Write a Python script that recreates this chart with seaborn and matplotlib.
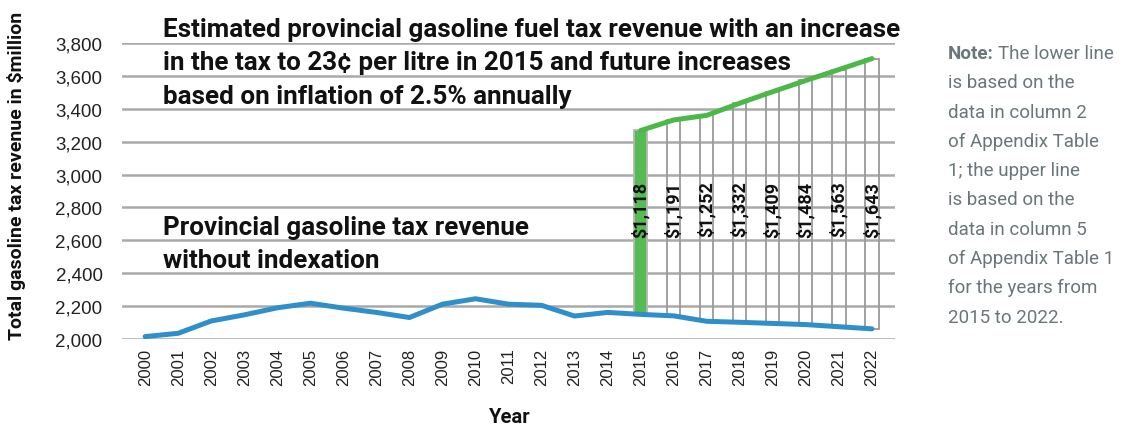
import matplotlib
matplotlib.use("Agg")
import matplotlib.pyplot as plt
import numpy as np
import pandas as pd
import seaborn as sns

# ---- data ($ million) ----
years = list(range(2000, 2023))
revenue_no_index = [2015, 2035, 2110, 2147, 2190, 2218, 2188, 2162, 2131, 2212,
                    2245, 2212, 2205, 2140, 2162, 2150, 2141, 2108, 2102, 2095,
                    2088, 2075, 2062]
proj_years = list(range(2015, 2023))
extra_revenue = [1118, 1191, 1252, 1332, 1409, 1484, 1563, 1643]
extra_labels = ["$1,118", "$1,191", "$1,252", "$1,332", "$1,409", "$1,484",
                "$1,563", "$1,643"]
ytick_values = list(range(2000, 3801, 200))
ytick_labels = [f"{v:,}" for v in ytick_values]

title_lines = [
    "Estimated provincial gasoline fuel tax revenue with an increase",
    "in the tax to 23¢ per litre in 2015 and future increases",
    "based on inflation of 2.5% annually",
]
lower_lines = ["Provincial gasoline tax revenue", "without indexation"]
note_first = "The lower line"
note_lines = ["is based on the", "data in column 2", "of Appendix Table",
              "1; the upper line", "is based on the", "data in column 5",
              "of Appendix Table 1", "for the years from", "2015 to 2022."]

# ---- style ----
sns.set_style("white")
plt.rcParams["font.family"] = ["Liberation Sans", "DejaVu Sans"]
HEAD = "Roboto"

BLUE = "#2f8fcb"
GREEN = "#4cb848"
GRID = "#a9a9a9"
NOTE = "#6a7679"

df_low = pd.DataFrame({"year": years, "revenue": revenue_no_index})
low_proj = df_low.set_index("year").loc[proj_years, "revenue"].to_numpy()
df_up = pd.DataFrame({"year": proj_years,
                      "revenue": low_proj + np.array(extra_revenue)})

fig = plt.figure(figsize=(11.36, 4.31), dpi=100)
ax = fig.add_axes([0.1074, 0.211, 0.6805, 0.687])

# horizontal grid
for v in ytick_values:
    ax.axhline(v, color=GRID, lw=1.8, zorder=0)

# floating bars: extra revenue stacked on the unindexed line
bars = ax.bar(proj_years, extra_revenue, bottom=low_proj, width=0.40,
              facecolor="none", edgecolor="#9a9a9a", linewidth=1.3, zorder=2)
bars[0].set_facecolor("#55bb52")
bars[0].set_edgecolor("#b5b5b5")

sns.lineplot(data=df_low, x="year", y="revenue", ax=ax, color=BLUE, lw=3.6,
             zorder=4, clip_on=False)
sns.lineplot(data=df_up, x="year", y="revenue", ax=ax, color=GREEN, lw=3.6,
             zorder=4, clip_on=False)

for yr, lab in zip(proj_years, extra_labels):
    ax.text(yr, 2793, lab, rotation=90, ha="center", va="center",
            family=HEAD, weight="bold", fontsize=13, color="#111111", zorder=5)

ax.set_xlim(1999.3, 2022.7)
ax.set_ylim(2000, 3800)
ax.set_xticks(years)
ax.set_xticklabels([str(y) for y in years], rotation=90, fontsize=12,
                   color="#222222")
ax.set_yticks(ytick_values)
ax.set_yticklabels(ytick_labels, fontsize=13.5, color="#222222")
ax.tick_params(axis="y", length=0, pad=14)
ax.tick_params(axis="x", length=0, pad=6)
ax.set_xlabel("")
ax.set_ylabel("")
for s in ax.spines.values():
    s.set_visible(False)

# in-chart captions
for i, line in enumerate(title_lines):
    fig.text(163 / 1136, 1 - (30 + 33.3 * i) / 431, line, ha="left",
             va="center", family=HEAD, weight="bold", fontsize=18.7,
             color="#111111")
for i, line in enumerate(lower_lines):
    fig.text(163 / 1136, 1 - (228 + 33.3 * i) / 431, line, ha="left",
             va="center", family=HEAD, weight="bold", fontsize=18.7,
             color="#111111")

fig.text(17 / 1136, 1 - 176 / 431, "Total gasoline tax revenue in $million",
         rotation=90, ha="center", va="center", family=HEAD, weight="bold",
         fontsize=14, color="#111111")
fig.text(510 / 1136, 1 - 418 / 431, "Year", ha="center", va="center",
         family=HEAD, weight="bold", fontsize=14.5, color="#111111")

# side note
note_x = 948 / 1136
step = 29.3
t0 = fig.text(note_x, 1 - 54 / 431, "Note:", ha="left", va="center",
              family=HEAD, weight="bold", fontsize=13.5, color=NOTE)
ax.annotate(note_first, xy=(1, 0), xycoords=t0, xytext=(3, 0),
            textcoords="offset points", ha="left", va="bottom",
            family=HEAD, fontsize=13.5, color=NOTE, annotation_clip=False)
for i, line in enumerate(note_lines, start=1):
    fig.text(note_x, 1 - (54 + step * i) / 431, line, ha="left", va="center",
             family=HEAD, fontsize=13.5, color=NOTE)

fig.savefig("out.png", dpi=100)
